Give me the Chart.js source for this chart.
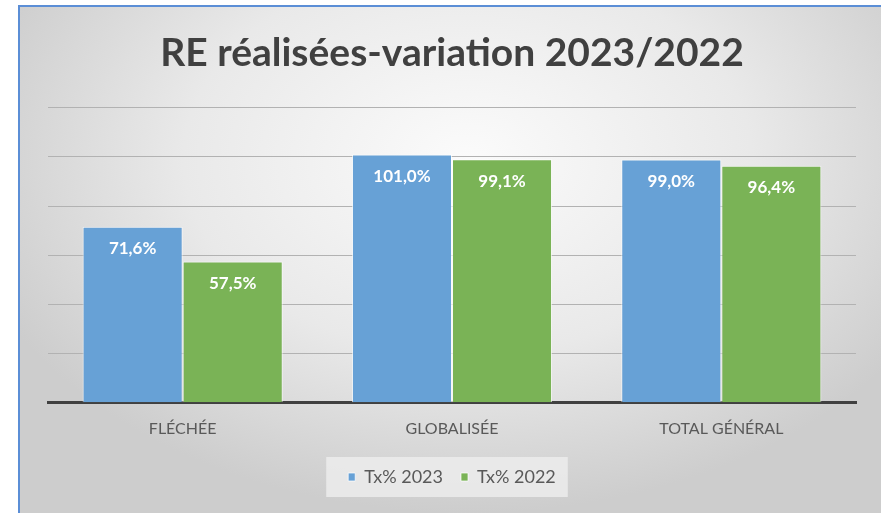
<!DOCTYPE html>
<html>
<head>
<meta charset="utf-8">
<script src="https://cdn.jsdelivr.net/npm/chart.js@4"></script>
<style>
  html, body { margin: 0; padding: 0; background: #fff; overflow: hidden; width: 881px; height: 516px; }
  #frame {
    position: absolute; left: 18px; top: 5px;
    width: 863px; height: 508px; box-sizing: border-box;
    border-top: 2px solid #5b8ed6; border-left: 2px solid #5b8ed6;
    background: radial-gradient(ellipse 60% 70% at 52% 30%, #fbfbfb 0%, #e9e9e9 55%, #cdcdcd 100%);
  }
  #wrap { position: absolute; left: 0; top: 0; width: 861px; height: 506px; }
</style>
</head>
<body>
<div id="frame"><div id="wrap"><canvas id="reChart"></canvas></div></div>
<script>
// chart data
const categories = ["FLÉCHÉE", "GLOBALISÉE", "TOTAL GÉNÉRAL"];
const tx2023 = [71.6, 101.0, 99.0];
const tx2022 = [57.5, 99.1, 96.4];
const seriesNames = ["Tx% 2023", "Tx% 2022"];

const fmt = v => v.toFixed(1).replace('.', ',') + '%';

// white value labels just inside the top of each bar
const valueLabels = {
    id: 'valueLabels',
    afterDatasetsDraw(chart) {
        const ctx = chart.ctx;
        ctx.save();
        ctx.fillStyle = '#ffffff';
        ctx.font = 'bold 17px Lato';
        ctx.textAlign = 'center';
        ctx.textBaseline = 'middle';
        chart.data.datasets.forEach((ds, i) => {
            chart.getDatasetMeta(i).data.forEach((bar, j) => {
                ctx.fillText(fmt(ds.data[j]), bar.x, bar.y + 22);
            });
        });
        ctx.restore();
    }
};

// light box behind the legend
const legendBox = {
    id: 'legendBox',
    beforeDraw(chart) {
        const boxes = chart.legend.legendHitBoxes;
        if (!boxes || !boxes.length) return;
        const left = Math.min(...boxes.map(b => b.left)) - 22;
        const right = Math.max(...boxes.map(b => b.left + b.width)) + 12;
        const top = boxes[0].top + boxes[0].height / 2 - 20;
        const ctx = chart.ctx;
        ctx.save();
        ctx.fillStyle = 'rgba(236,236,236,0.85)';
        ctx.fillRect(left, top, right - left, 40);
        ctx.restore();
    }
};

const ctx = document.getElementById('reChart').getContext('2d');
new Chart(ctx, {
    type: 'bar',
    data: {
        labels: categories,
        datasets: [
            { label: seriesNames[0], data: tx2023, backgroundColor: '#67a1d6', borderColor: 'rgba(255,255,255,0.7)', borderWidth: 1 },
            { label: seriesNames[1], data: tx2022, backgroundColor: '#7ab356', borderColor: 'rgba(255,255,255,0.7)', borderWidth: 1 }
        ]
    },
    options: {
        responsive: true,
        maintainAspectRatio: false,
        animation: false,
        layout: { padding: { left: 28, right: 25, top: 0, bottom: 17 } },
        datasets: { bar: { categoryPercentage: 0.743, barPercentage: 1.0 } },
        plugins: {
            title: {
                display: true,
                text: 'RE réalisées-variation 2023/2022',
                color: '#404040',
                font: { family: 'Lato', size: 39, weight: 'bold' },
                padding: { top: 23, bottom: 31 }
            },
            legend: {
                position: 'bottom',
                labels: {
                    color: '#595959',
                    font: { family: 'Lato', size: 18 },
                    boxWidth: 7, boxHeight: 8,
                    padding: 18
                }
            },
            tooltip: { enabled: false }
        },
        scales: {
            x: {
                grid: { display: false, drawTicks: false },
                border: { color: '#404040', width: 3 },
                ticks: { color: '#595959', font: { family: 'Lato', size: 16 }, padding: 16 },
                afterFit: s => { s.height -= 4; }
            },
            y: {
                min: 0, max: 120,
                ticks: { display: false, stepSize: 20 },
                grid: { color: '#b2b2b2', drawTicks: false },
                border: { display: false }
            }
        }
    },
    plugins: [valueLabels, legendBox]
});
</script>
</body>
</html>
